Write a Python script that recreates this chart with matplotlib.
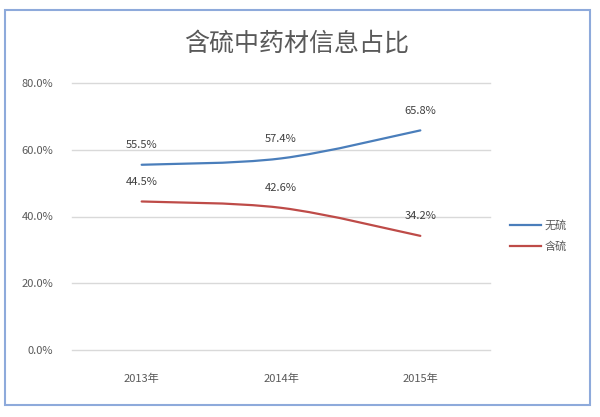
import matplotlib
matplotlib.use("Agg")
import matplotlib.pyplot as plt
from matplotlib.path import Path
from matplotlib.patches import PathPatch, Rectangle
import numpy as np

plt.rcParams['font.family'] = ['Noto Sans CJK SC', 'DejaVu Sans']

title = "含硫中药材信息占比"
categories = ["2013年", "2014年", "2015年"]
series_names = ["无硫", "含硫"]
no_sulfur = [55.5, 57.4, 65.8]
sulfur = [44.5, 42.6, 34.2]
yticks = [0, 20, 40, 60, 80]
colors = ["#4A7EBB", "#BE4B48"]

fig = plt.figure(figsize=(6.0, 4.17), dpi=100)
fig.patches.append(Rectangle((5/600, 1-405/417), 585/600, 395/417,
                             transform=fig.transFigure, fill=False,
                             edgecolor="#8EAADB", linewidth=1.5))
ax = fig.add_axes([72/600, 1-350/417, 418/600, 267/417])
ax.set_xlim(-0.5, 2.5)
ax.set_ylim(0, 80)
for s in ax.spines.values():
    s.set_visible(False)
ax.set_yticks(yticks)
ax.set_yticklabels([f"{v:.1f}%" for v in yticks])
ax.set_xticks(range(len(categories)))
ax.set_xticklabels(categories)
ax.tick_params(axis='both', length=0, labelsize=8, colors="#595959")
ax.tick_params(axis='y', pad=13.5)
ax.tick_params(axis='x', pad=17)
ax.grid(axis='y', color="#D9D9D9", linewidth=1)
for gl in ax.get_ygridlines():
    gl.set_clip_on(False)
ax.set_axisbelow(True)


def smooth_path(xs, ys):
    pts = np.column_stack([xs, ys]).astype(float)
    n = len(pts)
    verts = [pts[0]]
    codes = [Path.MOVETO]
    for i in range(n - 1):
        p0 = pts[max(i - 1, 0)]
        p1 = pts[i]
        p2 = pts[i + 1]
        p3 = pts[min(i + 2, n - 1)]
        c1 = p1 + (p2 - p0) / 6
        c2 = p2 - (p3 - p1) / 6
        verts += [c1, c2, p2]
        codes += [Path.CURVE4] * 3
    return Path(verts, codes)


xs = np.arange(len(categories))
handles = []
for name, vals, col in zip(series_names, [no_sulfur, sulfur], colors):
    patch = PathPatch(smooth_path(xs, vals), fill=False, edgecolor=col,
                      linewidth=1.6, capstyle='round')
    ax.add_patch(patch)
    h, = ax.plot([], [], color=col, linewidth=1.6, label=name)
    handles.append(h)
    for x, v in zip(xs, vals):
        ax.annotate(f"{v}%", (x, v), xytext=(0, 14), textcoords='offset points',
                    ha='center', va='center', fontsize=8, color="#404040")

fig.text(0.495, 1-44/417, title, ha='center', va='center', fontsize=18,
         color="#595959")

leg = fig.legend(handles=handles, loc='center left',
                 bbox_to_anchor=(500/600, 1-236/417), frameon=False,
                 fontsize=8, handlelength=2.8, labelspacing=0.9,
                 handletextpad=0.3, labelcolor="#595959")

fig.savefig("out.png", dpi=100)
